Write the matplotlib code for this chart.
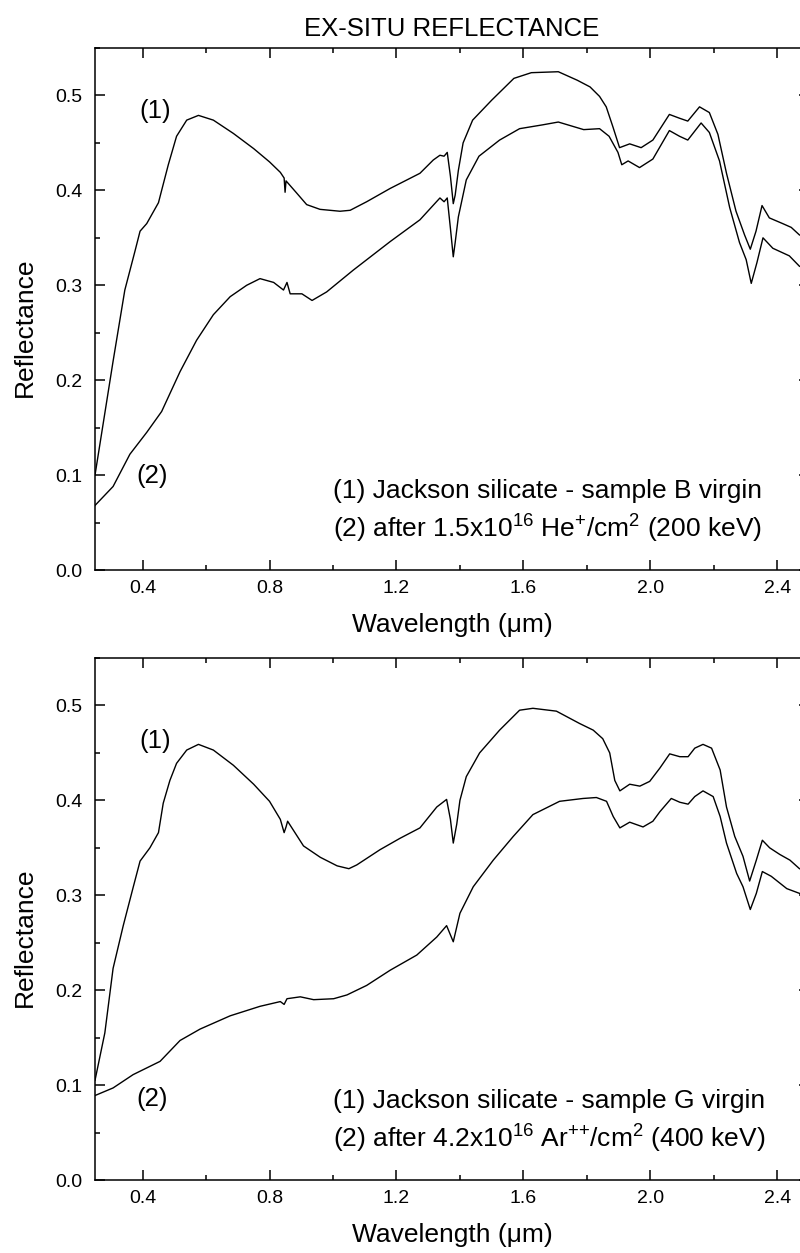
import numpy as np
import matplotlib
matplotlib.use('Agg')
import matplotlib.pyplot as plt
from matplotlib.ticker import MultipleLocator, FormatStrFormatter

# sample B, virgin (1) and after He+ irradiation (2)
wl_b1 = [0.25, 0.307, 0.344, 0.376, 0.392, 0.413, 0.45, 0.46, 0.481, 0.507, 0.539, 0.576,
         0.623, 0.686, 0.75, 0.80, 0.834, 0.846, 0.849, 0.852, 0.886, 0.917, 0.959, 1.022,
         1.054, 1.106, 1.18, 1.274, 1.316, 1.337, 1.35, 1.36, 1.37, 1.379, 1.385, 1.395,
         1.41, 1.44, 1.50, 1.57, 1.625, 1.71, 1.77, 1.81, 1.84, 1.861, 1.882, 1.903, 1.935,
         1.971, 2.008, 2.06, 2.092, 2.118, 2.155, 2.186, 2.213, 2.24, 2.27, 2.297, 2.315,
         2.333, 2.352, 2.375, 2.417, 2.444, 2.47, 2.5]
refl_b1 = [0.10, 0.22, 0.295, 0.336, 0.357, 0.365, 0.387, 0.40, 0.427, 0.457, 0.474, 0.479,
           0.474, 0.46, 0.444, 0.43, 0.419, 0.413, 0.398, 0.41, 0.397, 0.385, 0.380, 0.378,
           0.379, 0.388, 0.402, 0.418, 0.432, 0.437, 0.436, 0.44, 0.415, 0.386, 0.395, 0.421,
           0.45, 0.474, 0.495, 0.518, 0.524, 0.525, 0.516, 0.509, 0.499, 0.488, 0.467, 0.445,
           0.449, 0.445, 0.453, 0.48, 0.476, 0.473, 0.488, 0.482, 0.459, 0.418, 0.378, 0.353,
           0.338, 0.357, 0.384, 0.371, 0.365, 0.361, 0.353, 0.35]

wl_b2 = [0.25, 0.307, 0.36, 0.413, 0.46, 0.518, 0.57, 0.623, 0.676, 0.728, 0.77, 0.813,
         0.844, 0.855, 0.865, 0.902, 0.934, 0.98, 1.064, 1.18, 1.274, 1.326, 1.337, 1.35,
         1.36, 1.37, 1.379, 1.385, 1.395, 1.42, 1.46, 1.525, 1.588, 1.66, 1.71, 1.79, 1.84,
         1.87, 1.898, 1.91, 1.93, 1.966, 2.008, 2.06, 2.092, 2.118, 2.16, 2.186, 2.218, 2.25,
         2.281, 2.302, 2.318, 2.336, 2.355, 2.386, 2.438, 2.47, 2.5]
refl_b2 = [0.068, 0.088, 0.122, 0.145, 0.167, 0.209, 0.242, 0.269, 0.288, 0.30, 0.307, 0.303,
           0.295, 0.303, 0.291, 0.291, 0.284, 0.293, 0.316, 0.346, 0.369, 0.388, 0.392, 0.388,
           0.392, 0.36, 0.33, 0.345, 0.372, 0.411, 0.436, 0.453, 0.465, 0.469, 0.472, 0.464,
           0.465, 0.457, 0.44, 0.427, 0.431, 0.424, 0.433, 0.463, 0.457, 0.453, 0.471, 0.461,
           0.431, 0.382, 0.345, 0.327, 0.302, 0.324, 0.35, 0.339, 0.331, 0.32, 0.317]

# sample G, virgin (1) and after Ar++ irradiation (2)
wl_g1 = [0.25, 0.281, 0.307, 0.339, 0.37, 0.392, 0.423, 0.45, 0.465, 0.486, 0.507, 0.539,
         0.576, 0.623, 0.686, 0.75, 0.80, 0.834, 0.846, 0.852, 0.857, 0.907, 0.96, 1.013,
         1.05, 1.075, 1.148, 1.211, 1.274, 1.327, 1.358, 1.37, 1.379, 1.39, 1.4, 1.42, 1.462,
         1.525, 1.588, 1.63, 1.704, 1.777, 1.82, 1.85, 1.872, 1.888, 1.904, 1.935, 1.967,
         1.998, 2.03, 2.061, 2.093, 2.119, 2.14, 2.166, 2.193, 2.22, 2.24, 2.266, 2.292,
         2.313, 2.334, 2.353, 2.376, 2.408, 2.44, 2.47, 2.5]
refl_g1 = [0.105, 0.155, 0.223, 0.268, 0.308, 0.336, 0.35, 0.366, 0.397, 0.421, 0.439, 0.453,
           0.459, 0.453, 0.437, 0.417, 0.399, 0.38, 0.366, 0.372, 0.378, 0.352, 0.34, 0.331,
           0.328, 0.332, 0.348, 0.36, 0.371, 0.393, 0.401, 0.38, 0.355, 0.375, 0.40, 0.425,
           0.45, 0.474, 0.495, 0.497, 0.494, 0.481, 0.474, 0.465, 0.45, 0.421, 0.41, 0.417,
           0.415, 0.42, 0.434, 0.449, 0.446, 0.446, 0.455, 0.459, 0.455, 0.432, 0.393, 0.362,
           0.341, 0.315, 0.337, 0.358, 0.35, 0.343, 0.337, 0.328, 0.325]

wl_g2 = [0.25, 0.307, 0.37, 0.455, 0.518, 0.581, 0.676, 0.77, 0.834, 0.846, 0.855, 0.897,
         0.939, 1.002, 1.044, 1.106, 1.18, 1.264, 1.327, 1.358, 1.379, 1.4, 1.442, 1.505,
         1.568, 1.63, 1.714, 1.788, 1.83, 1.862, 1.883, 1.904, 1.935, 1.977, 2.008, 2.03,
         2.066, 2.093, 2.119, 2.14, 2.166, 2.198, 2.22, 2.24, 2.272, 2.292, 2.315, 2.334,
         2.353, 2.381, 2.43, 2.47, 2.5]
refl_g2 = [0.089, 0.097, 0.111, 0.125, 0.147, 0.159, 0.173, 0.183, 0.188, 0.185, 0.191, 0.193,
           0.19, 0.191, 0.195, 0.205, 0.221, 0.237, 0.256, 0.268, 0.251, 0.281, 0.309, 0.337,
           0.362, 0.385, 0.399, 0.402, 0.403, 0.399, 0.383, 0.371, 0.377, 0.372, 0.378, 0.388,
           0.402, 0.398, 0.396, 0.404, 0.41, 0.404, 0.383, 0.355, 0.323, 0.309, 0.285, 0.302,
           0.325, 0.32, 0.307, 0.302, 0.300]

notes_b = ['(1) Jackson silicate - sample B virgin',
           r'(2) after 1.5x10$^{16}$ He$^{+}$/cm$^{2}$ (200 keV)']
notes_g = ['(1) Jackson silicate - sample G virgin',
           r'(2) after 4.2x10$^{16}$ Ar$^{{+}{+}}$/cm$^{2}$ (400 keV)']


def style_axes(ax):
    ax.set_xlim(0.25, 2.5)
    ax.set_ylim(0.0, 0.55)
    ax.xaxis.set_major_locator(MultipleLocator(0.4))
    ax.xaxis.set_minor_locator(MultipleLocator(0.2))
    ax.yaxis.set_major_locator(MultipleLocator(0.1))
    ax.yaxis.set_minor_locator(MultipleLocator(0.05))
    ax.xaxis.set_major_formatter(FormatStrFormatter('%.1f'))
    ax.yaxis.set_major_formatter(FormatStrFormatter('%.1f'))
    ax.tick_params(which='both', direction='in', top=True, right=True, width=1.1)
    ax.tick_params(which='major', length=7, labelsize=14)
    ax.tick_params(axis='x', which='major', pad=7)
    ax.tick_params(axis='y', which='major', pad=9)
    ax.tick_params(which='minor', length=3.5)
    for sp in ax.spines.values():
        sp.set_linewidth(1.1)
    ax.set_xlabel('Wavelength (μm)', fontsize=19, va='baseline')
    ax.xaxis.set_label_coords(0.5, -0.119)
    ax.text(-0.098, 0.4655, 'Reflectance', fontsize=19, rotation=90,
            ha='center', va='center', transform=ax.transAxes)


def draw_panel(ax, x1, y1, x2, y2, notes, lab1_y, lab2_y):
    ax.plot(x1, y1, color='black', lw=1.0)
    ax.plot(x2, y2, color='black', lw=1.0)
    style_axes(ax)
    ax.text(0.439, lab1_y, '(1)', fontsize=18.5, ha='center', va='center')
    ax.text(0.43, lab2_y, '(2)', fontsize=18.5, ha='center', va='center')
    ax.text(1.0, 0.076, notes[0], fontsize=19, ha='left', va='baseline')
    ax.text(1.0, 0.034, notes[1], fontsize=19, ha='left', va='baseline')


def main():
    plt.rcParams['font.family'] = ['Liberation Sans', 'DejaVu Sans']
    plt.rcParams['mathtext.fontset'] = 'custom'
    plt.rcParams['mathtext.rm'] = 'Liberation Sans'
    plt.rcParams['mathtext.it'] = 'Liberation Sans:italic'

    fig = plt.figure(figsize=(8, 12.53), dpi=100)
    ax1 = fig.add_axes([0.11875, 0.54509, 0.8925, 0.4166])
    ax2 = fig.add_axes([0.11875, 0.05826, 0.8925, 0.4166])

    draw_panel(ax1, wl_b1, refl_b1, wl_b2, refl_b2, notes_b, 0.484, 0.099)
    draw_panel(ax2, wl_g1, refl_g1, wl_g2, refl_g2, notes_g, 0.463, 0.085)

    ax1.set_title('EX-SITU REFLECTANCE', fontsize=18.5, pad=9)

    fig.savefig('out.png', dpi=100)


if __name__ == '__main__':
    main()
